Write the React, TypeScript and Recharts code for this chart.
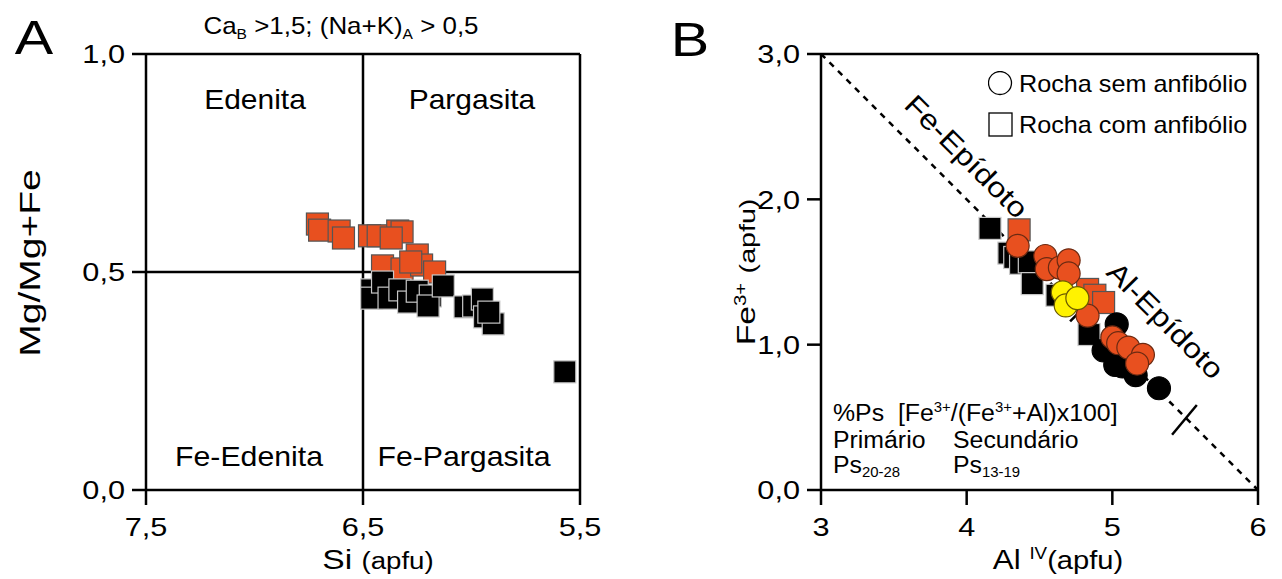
import React from 'react'
import {
  ScatterChart, Scatter, XAxis, YAxis, ReferenceLine,
} from 'recharts'

// Painel A: Si (apfu) x Mg/(Mg+Fe)
const anfLaranja: [number, number][] = [
  [6.71, 0.61], [6.70, 0.596], [6.61, 0.594], [6.59, 0.578], [6.47, 0.583],
  [6.43, 0.583], [6.34, 0.594], [6.32, 0.592], [6.37, 0.578], [6.25, 0.539],
  [6.41, 0.514], [6.32, 0.507], [6.23, 0.516], [6.17, 0.50], [6.28, 0.523],
]
const anfPreto: [number, number][] = [
  [6.46, 0.459], [6.46, 0.44], [6.41, 0.477], [6.38, 0.44], [6.33, 0.459],
  [6.29, 0.431], [6.25, 0.456], [6.19, 0.445], [6.20, 0.422], [6.13, 0.468],
  [6.03, 0.42], [5.99, 0.422], [5.95, 0.438], [5.94, 0.397], [5.90, 0.381],
  [5.92, 0.408], [5.57, 0.271],
]

// Painel B: Al IV x Fe3+
const quadPreto: [number, number][] = [
  [4.16, 1.80], [4.29, 1.63], [4.33, 1.60], [4.37, 1.56], [4.43, 1.57],
  [4.45, 1.42], [4.62, 1.34], [4.84, 1.07],
]
const quadLaranja: [number, number][] = [
  [4.36, 1.79], [4.83, 1.38], [4.88, 1.34], [4.94, 1.29],
]
const circPreto: [number, number][] = [
  [5.03, 1.14], [4.94, 0.96], [5.02, 0.86], [5.07, 0.85], [5.16, 0.79], [5.32, 0.70],
]
const circLaranja: [number, number][] = [
  [4.35, 1.68], [4.54, 1.61], [4.55, 1.52], [4.64, 1.53], [4.70, 1.58],
  [4.70, 1.49], [4.83, 1.20], [5.00, 1.05], [5.04, 1.01], [5.11, 0.98],
  [5.21, 0.93], [5.17, 0.87],
]
const circAmarelo: [number, number][] = [
  [4.66, 1.36], [4.68, 1.27], [4.76, 1.32],
]

const ticksSi = [7.5, 6.5, 5.5]
const ticksMg = [0, 0.5, 1]
const ticksAl = [3, 4, 5, 6]
const ticksFe = [0, 1, 2, 3]

const FONT = '"Liberation Sans", Arial, sans-serif'
const LARANJA = '#e8501f'
const AMARELO = '#fff200'

const toPts = (arr: [number, number][]) => arr.map(([x, y]) => ({ x, y }))
const virgula = (v: number) => v.toFixed(1).replace('.', ',')

const square = (fill: string, stroke: string) => (p: any) => (
  <rect x={p.cx - 11} y={p.cy - 11} width={22} height={22} fill={fill} stroke={stroke} strokeWidth={1.2} />
)
const circle = (fill: string, stroke: string) => (p: any) => (
  <circle cx={p.cx} cy={p.cy} r={11.5} fill={fill} stroke={stroke} strokeWidth={1.2} />
)

const axisLine = { stroke: '#000', strokeWidth: 2.5 }

// rótulos dos ticks um pouco alargados, como no original
const makeTick = (fmt: (v: number) => string, vertical: boolean) => (p: any) => (
  <text
    transform={`translate(${p.x},${p.y}) scale(1.18,1)`}
    textAnchor={p.textAnchor}
    dy={vertical ? '0.36em' : '0.72em'}
    fontSize={26}
    fontFamily={FONT}
    fill="#000"
  >
    {fmt(p.payload.value)}
  </text>
)

function T({ x, y, size, children, rotate = 0, left = false, sx = 1 }: any) {
  return (
    <div style={{
      position: 'absolute', left: x, top: y, fontSize: size, lineHeight: 1,
      whiteSpace: 'nowrap', fontFamily: FONT, color: '#000',
      transformOrigin: left ? '0 50%' : '50% 50%',
      transform: `translate(${left ? '0' : '-50%'}, -50%) rotate(${rotate}deg) scale(${sx},1)`,
    }}>
      {children}
    </div>
  )
}

const sub = { fontSize: '0.6em', verticalAlign: '-0.35em', lineHeight: 0 }
const sup = { fontSize: '0.6em', verticalAlign: '0.6em', lineHeight: 0 }

export default function App() {
  return (
    <div style={{ position: 'absolute', left: 0, top: 0, width: 1282, height: 579, background: '#fff', overflow: 'hidden' }}>
      {/* Painel A */}
      <div style={{ position: 'absolute', left: 0, top: 0 }}>
        <ScatterChart width={620} height={579} margin={{ top: 54, right: 40, bottom: 29, left: 76 }}>
          <XAxis type="number" dataKey="x" domain={[5.5, 7.5]} reversed ticks={ticksSi} interval={0}
            tick={makeTick(virgula, false)} tickSize={15} tickMargin={12} height={60}
            axisLine={axisLine} tickLine={axisLine} allowDataOverflow />
          <YAxis type="number" dataKey="y" domain={[0, 1]} ticks={ticksMg} interval={0}
            tick={makeTick(virgula, true)} tickSize={14} tickMargin={7} width={70}
            axisLine={axisLine} tickLine={axisLine} allowDataOverflow />
          <ReferenceLine y={1} stroke="#000" strokeWidth={2.5} />
          <ReferenceLine x={5.5} stroke="#000" strokeWidth={2.5} />
          <ReferenceLine x={6.5} stroke="#000" strokeWidth={2.5} />
          <ReferenceLine y={0.5} stroke="#000" strokeWidth={2.5} />
          <Scatter data={toPts(anfLaranja)} shape={square(LARANJA, '#555')} isAnimationActive={false} />
          <Scatter data={toPts(anfPreto)} shape={square('#000', '#c8c8c8')} isAnimationActive={false} />
        </ScatterChart>
      </div>

      {/* Painel B */}
      <div style={{ position: 'absolute', left: 640, top: 0 }}>
        <ScatterChart width={642} height={579} margin={{ top: 54, right: 24, bottom: 29, left: 111 }}>
          <XAxis type="number" dataKey="x" domain={[3, 6]} ticks={ticksAl} interval={0}
            tick={makeTick((v) => String(v), false)} tickSize={15} tickMargin={12} height={60}
            axisLine={axisLine} tickLine={axisLine} allowDataOverflow />
          <YAxis type="number" dataKey="y" domain={[0, 3]} ticks={ticksFe} interval={0}
            tick={makeTick(virgula, true)} tickSize={14} tickMargin={7} width={70}
            axisLine={axisLine} tickLine={axisLine} allowDataOverflow />
          <ReferenceLine y={3} stroke="#000" strokeWidth={2.5} />
          <ReferenceLine x={6} stroke="#000" strokeWidth={2.5} />
          <ReferenceLine segment={[{ x: 3, y: 3 }, { x: 6, y: 0 }]} stroke="#000" strokeWidth={2.5} strokeDasharray="6 6" />
          <ReferenceLine segment={[{ x: 4.71, y: 1.16 }, { x: 4.93, y: 1.38 }]} stroke="#000" strokeWidth={2.5} />
          <ReferenceLine segment={[{ x: 5.41, y: 0.38 }, { x: 5.58, y: 0.585 }]} stroke="#000" strokeWidth={2.5} />
          <Scatter data={toPts(quadPreto)} shape={square('#000', '#c8c8c8')} isAnimationActive={false} />
          <Scatter data={toPts(quadLaranja)} shape={square(LARANJA, '#555')} isAnimationActive={false} />
          <Scatter data={toPts(circPreto)} shape={circle('#000', '#000')} isAnimationActive={false} />
          <Scatter data={toPts(circLaranja)} shape={circle(LARANJA, '#6b2a12')} isAnimationActive={false} />
          <Scatter data={toPts(circAmarelo)} shape={circle(AMARELO, '#6b5a00')} isAnimationActive={false} />
        </ScatterChart>
      </div>

      {/* textos do painel A */}
      <T x={34} y={38} size={48} sx={1.2}>A</T>
      <T x={341} y={26} size={24} sx={1.08}>Ca<span style={sub}>B</span> &gt;1,5; (Na+K)<span style={sub}>A</span> &gt; 0,5</T>
      <T x={30} y={263} size={30} sx={1.3} rotate={-90}>Mg/Mg+Fe</T>
      <T x={378} y={560} size={28} sx={1.2}>Si <span style={{ fontSize: 23 }}>(apfu)</span></T>
      <T x={255} y={100} size={28} sx={1.07}>Edenita</T>
      <T x={472} y={100} size={28} sx={1.07}>Pargasita</T>
      <T x={249} y={457} size={28} sx={1.08}>Fe-Edenita</T>
      <T x={464} y={457} size={28} sx={1.08}>Fe-Pargasita</T>

      {/* textos do painel B */}
      <T x={690} y={40} size={48} sx={1.2}>B</T>
      <T x={746} y={272} size={26} sx={1.3} rotate={-90}>Fe<span style={sup}>3+</span> <span style={{ fontSize: 22 }}>(apfu)</span></T>
      <T x={1058} y={560} size={28} sx={1.12}>Al <span style={sup}>IV</span><span style={{ fontSize: 26 }}>(apfu)</span></T>
      <T x={966} y={157} size={28} sx={1.16} rotate={45}>Fe-Epídoto</T>
      <T x={1165} y={321} size={28} sx={1.16} rotate={45}>Al-Epídoto</T>

      <div style={{ position: 'absolute', left: 988, top: 71 }}>
        <svg width={26} height={26}><circle cx={12} cy={12} r={11.5} fill="#fff" stroke="#000" strokeWidth={1.3} /></svg>
      </div>
      <T x={1019} y={84} size={24} sx={1.05} left>Rocha sem anfibólio</T>
      <div style={{ position: 'absolute', left: 988, top: 112 }}>
        <svg width={26} height={26}><rect x={1} y={1} width={23} height={23} fill="#fff" stroke="#000" strokeWidth={1.3} /></svg>
      </div>
      <T x={1019} y={125} size={24} sx={1.05} left>Rocha com anfibólio</T>

      <T x={833} y={413} size={23} sx={1.08} left>%Ps&nbsp; [Fe<span style={sup}>3+</span>/(Fe<span style={sup}>3+</span>+Al)x100]</T>
      <T x={833} y={440} size={23} sx={1.08} left>Primário</T>
      <T x={953} y={440} size={23} sx={1.08} left>Secundário</T>
      <T x={833} y={465} size={23} sx={1.08} left>Ps<span style={sub}>20-28</span></T>
      <T x={953} y={465} size={23} sx={1.08} left>Ps<span style={sub}>13-19</span></T>
    </div>
  )
}
